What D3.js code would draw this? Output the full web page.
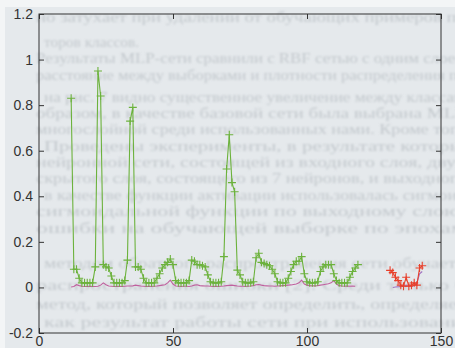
<!DOCTYPE html>
<html>
<head>
<meta charset="utf-8">
<script src="https://cdn.jsdelivr.net/npm/d3@7"></script>
<style>
  html, body { margin: 0; padding: 0; background: #e6eaed; }
  svg { display: block; }
</style>
</head>
<body>
<div id="chart"></div>
<script>
// Data
const greenStart = 12;
const greenY = [
  0.83, 0.08, 0.08, 0.04, 0.02, 0.02, 0.02, 0.02, 0.02, 0.09,   // 12-21
  0.95, 0.84, 0.10, 0.09, 0.085, 0.05, 0.02, 0.02, 0.02, 0.02,  // 22-31
  0.03, 0.12, 0.73, 0.79, 0.09, 0.09, 0.08, 0.04, 0.02, 0.02,   // 32-41
  0.02, 0.02, 0.04, 0.06, 0.085, 0.10, 0.11, 0.125, 0.10, 0.03, // 42-51
  0.02, 0.02, 0.02, 0.02, 0.03, 0.12, 0.115, 0.10, 0.10, 0.095, // 52-61
  0.09, 0.055, 0.025, 0.02, 0.02, 0.02, 0.025, 0.135, 0.52, 0.67, // 62-71
  0.46, 0.42, 0.076, 0.055, 0.025, 0.02, 0.02, 0.02, 0.025, 0.13, // 72-81
  0.15, 0.11, 0.105, 0.10, 0.095, 0.08, 0.06, 0.025, 0.02, 0.02,  // 82-91
  0.02, 0.04, 0.07, 0.10, 0.115, 0.115, 0.135, 0.06, 0.025, 0.02, // 92-101
  0.02, 0.02, 0.025, 0.07, 0.09, 0.10, 0.10, 0.10, 0.06, 0.03,    // 102-111
  0.02, 0.02, 0.02, 0.02, 0.045, 0.07, 0.085, 0.10                // 112-119
];

const redStart = 131;
const redY = [0.075, 0.065, 0.045, 0.03, 0.01, 0.005, 0.045, 0.005, 0.01, 0.02, 0.01, 0.085, 0.095];

const pinkStart = 12;
const pinkY = [
  0.002, 0.004, 0.012, 0.008, 0.005, 0.004, 0.004, 0.005, 0.004, 0.004,
  0.005, 0.010, 0.020, 0.012, 0.006, 0.005, 0.004, 0.004, 0.005, 0.004,
  0.005, 0.006, 0.006, 0.007, 0.010, 0.008, 0.006, 0.005, 0.004, 0.005,
  0.004, 0.005, 0.006, 0.008, 0.010, 0.012, 0.020, 0.032, 0.015, 0.006,
  0.005, 0.004, 0.005, 0.005, 0.004, 0.006, 0.010, 0.012, 0.008, 0.007,
  0.006, 0.006, 0.005, 0.004, 0.005, 0.004, 0.005, 0.006, 0.008, 0.009,
  0.010, 0.008, 0.006, 0.005, 0.005, 0.004, 0.005, 0.006, 0.008, 0.012,
  0.013, 0.010, 0.008, 0.007, 0.006, 0.006, 0.005, 0.006, 0.007, 0.008,
  0.009, 0.010, 0.011, 0.013, 0.015, 0.020, 0.032, 0.015, 0.010, 0.008,
  0.007, 0.007, 0.008, 0.010, 0.012, 0.014, 0.016, 0.020, 0.030, 0.015,
  0.008, 0.006, 0.005, 0.006, 0.005, 0.006, 0.005
];
const pink2Start = 132;
const pink2Y = [0.0, 0.002, 0.003, 0.003, 0.005, 0.01, 0.005, 0.005, 0.008, 0.02, 0.06, 0.07];

const xTicks = [0, 50, 100, 150];
const yTicks = [-0.2, 0, 0.2, 0.4, 0.6, 0.8, 1, 1.2];

// Book page text bleeding through the scan
const pageLines = [
  'но затухает при удалении от обучающих примеров по',
  'торов классов.',
  'Результаты MLP-сети сравнили с RBF сетью с одним слоем',
  'расстояние между выборками и плотности распределения по',
  'на рис. 7 видно существенное увеличение между классами',
  'образом, в качестве базовой сети была выбрана MLP',
  'многослойной среди использованных нами. Кроме того',
  'Проведены эксперименты, в результате которых',
  'нейронной сети, состоящей из входного слоя, двух',
  'скрытого слоя, состоящего из 7 нейронов, и выходного',
  'в качестве функции активации использовалась сигмоида',
  'сигмоидальной функции по выходному слою.',
  'ошибки на обучающей выборке по эпохам',
  'методом обратного распространения сети обучается',
  'распространения ошибки [2]. Среди только 0',
  'метод, который позволяет определить, определяет',
  'как результат работы сети при использовании'
];
const pageLineY = [22, 47, 63, 80, 102, 118, 134, 151, 167, 183, 200, 216, 233, 268, 290, 309, 327];

const width = 455;
const height = 348;
const margin = { left: 39, right: 14, top: 14, bottom: 15 };

const svg = d3.select('#chart')
  .append('svg')
  .attr('width', width)
  .attr('height', height);

const defs = svg.append('defs');
defs.append('filter')
  .attr('id', 'soft')
  .append('feGaussianBlur')
  .attr('stdDeviation', 0.6);
defs.append('filter')
  .attr('id', 'bleed')
  .append('feGaussianBlur')
  .attr('stdDeviation', 1.1);

// Page background
svg.append('rect')
  .attr('width', width)
  .attr('height', height)
  .attr('fill', '#e5e9ec');
svg.append('rect')
  .attr('width', width)
  .attr('height', 7)
  .attr('fill', '#f3f5f6');
svg.append('rect')
  .attr('width', 5)
  .attr('height', height)
  .attr('fill', '#f3f5f6');

svg.append('g')
  .attr('filter', 'url(#bleed)')
  .selectAll('text')
  .data(pageLines)
  .enter()
  .append('text')
  .attr('x', (d, i) => i % 3 === 1 ? 44 : 36)
  .attr('y', (d, i) => pageLineY[i])
  .attr('textLength', (d, i) => i === 1 ? 95 : 430)
  .attr('lengthAdjust', 'spacingAndGlyphs')
  .attr('font-family', 'Liberation Serif, serif')
  .attr('font-size', 15)
  .attr('fill', '#8f979e')
  .attr('opacity', 0.4)
  .text(d => d);

const x = d3.scaleLinear()
  .domain([0, 150])
  .range([margin.left, width - margin.right]);

const y = d3.scaleLinear()
  .domain([-0.2, 1.2])
  .range([height - margin.bottom, margin.top]);

const fmt = d => String(+d.toFixed(1));
const tickLen = 5;
const axisColor = '#333';

function styleAxis(g, showLabels) {
  g.select('.domain').remove();
  g.selectAll('line').attr('stroke', axisColor).attr('stroke-width', 1);
  g.selectAll('text')
    .attr('fill', axisColor)
    .attr('font-family', 'Liberation Sans, Arial, sans-serif')
    .attr('font-size', 14)
    .style('display', showLabels ? null : 'none');
}

// Bottom / top
svg.append('g')
  .attr('transform', `translate(0,${height - margin.bottom})`)
  .call(d3.axisBottom(x).tickValues(xTicks).tickFormat(fmt).tickSizeInner(-tickLen).tickSizeOuter(0).tickPadding(3))
  .call(g => styleAxis(g, true));
svg.append('g')
  .attr('transform', `translate(0,${margin.top})`)
  .call(d3.axisTop(x).tickValues(xTicks).tickSizeInner(-tickLen).tickSizeOuter(0))
  .call(g => styleAxis(g, false));

// Left / right
svg.append('g')
  .attr('transform', `translate(${margin.left},0)`)
  .call(d3.axisLeft(y).tickValues(yTicks).tickFormat(fmt).tickSizeInner(-tickLen).tickSizeOuter(0).tickPadding(6))
  .call(g => styleAxis(g, true));
svg.append('g')
  .attr('transform', `translate(${width - margin.right},0)`)
  .call(d3.axisRight(y).tickValues(yTicks).tickSizeInner(-tickLen).tickSizeOuter(0))
  .call(g => styleAxis(g, false));

// Box
svg.append('rect')
  .attr('x', x(0))
  .attr('y', y(1.2))
  .attr('width', x(150) - x(0))
  .attr('height', y(-0.2) - y(1.2))
  .attr('fill', 'none')
  .attr('stroke', axisColor)
  .attr('stroke-width', 1);

const line = d3.line()
  .x(d => x(d[0]))
  .y(d => y(d[1]));

const toPoints = (start, values) => values.map((v, i) => [start + i, v]);

const plot = svg.append('g').attr('filter', 'url(#soft)');

function drawSeries(points, color, withMarkers) {
  plot.append('path')
    .datum(points)
    .attr('d', line)
    .attr('fill', 'none')
    .attr('stroke', color)
    .attr('stroke-width', 1.1);

  if (!withMarkers) return;
  const m = 4;
  plot.append('g')
    .selectAll('path')
    .data(points)
    .enter()
    .append('path')
    .attr('d', d => {
      const px = x(d[0]);
      const py = y(d[1]);
      return `M${px - m},${py}H${px + m}M${px},${py - m}V${py + m}`;
    })
    .attr('stroke', color)
    .attr('stroke-width', 1.1)
    .attr('fill', 'none');
}

drawSeries(toPoints(pinkStart, pinkY), '#c0609e', false);
drawSeries(toPoints(pink2Start, pink2Y), '#a070c0', false);
drawSeries(toPoints(greenStart, greenY), '#6cb23c', true);
drawSeries(toPoints(redStart, redY), '#e8402c', true);
</script>
</body>
</html>
